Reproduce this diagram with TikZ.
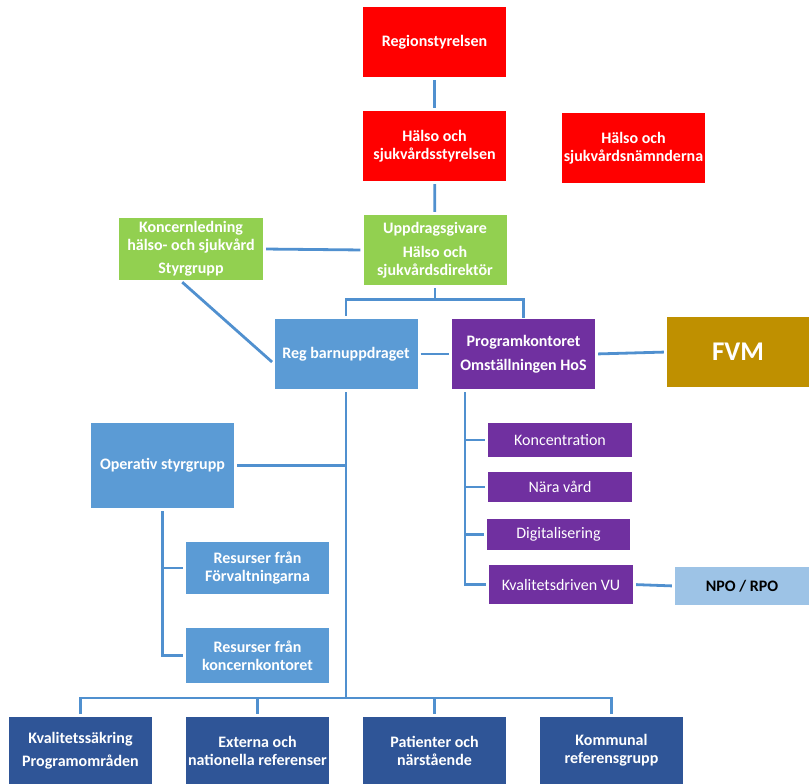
\documentclass[tikz,border=0pt]{standalone}
\usepackage{fontspec}
\setmainfont{Carlito}
\usetikzlibrary{calc}
\definecolor{cred}{HTML}{FF0000}
\definecolor{cgreen}{HTML}{92D050}
\definecolor{cblue}{HTML}{5B9BD5}
\definecolor{cpurple}{HTML}{7030A0}
\definecolor{cgold}{HTML}{BF9000}
\definecolor{clight}{HTML}{9DC3E6}
\definecolor{cdark}{HTML}{2F5597}
\definecolor{cline}{HTML}{5090CF}
\tikzset{
  box/.style={inner sep=0pt, minimum width=143pt, minimum height=70pt, text=white,
    font=\bfseries\fontsize{16}{18}\selectfont, align=center},
  redbox/.style={box, fill=cred},
  greenbox/.style={box, fill=cgreen},
  bluebox/.style={box, fill=cblue},
  purplebox/.style={box, fill=cpurple},
  subbox/.style={box, fill=cpurple, font=\fontsize{16}{18}\selectfont, minimum width=144pt},
  darkbox/.style={box, fill=cdark, minimum height=67pt},
  conn/.style={draw=cline, line width=2.8pt, shorten >=3pt, shorten <=3pt},
  plain/.style={draw=cline, line width=2.8pt}
}
\begin{document}
\begin{tikzpicture}[x=1pt,y=-1pt]
\useasboundingbox (0,0) rectangle (809,784);
% red
\node[redbox] (rs) at (434.5,42) {Regionstyrelsen};
\node[redbox] (hs) at (434.5,146) {Hälso och\\sjukvårdsstyrelsen};
\node[redbox] (hn) at (633.5,148) {Hälso och\\sjukvårdsnämnderna};
% green
\node[greenbox] (ug) at (435,250) {Uppdragsgivare\\[6pt]Hälso och\\sjukvårdsdirektör};
\node[greenbox, minimum width=144pt, minimum height=62pt] (kl) at (191,249) {Koncernledning\\hälso- och sjukvård\\[5pt]Styrgrupp};
% blue / purple
\node[bluebox] (rb) at (346,354) {Reg barnuppdraget};
\node[purplebox] (pk) at (523.5,354) {Programkontoret\\[6pt]Omställningen HoS};
\node[box, fill=cgold, minimum width=142pt, font=\bfseries\fontsize{27}{30}\selectfont] (fvm) at (738,352) {FVM};
% sub purple
\node[subbox, minimum height=34pt] (ko) at (560,440) {Koncentration};
\node[subbox, minimum height=30pt] (nv) at (560,487) {Nära vård};
\node[subbox, minimum width=143pt, minimum height=31pt] (dg) at (558.5,534.5) {Digitalisering};
\node[subbox, minimum height=39pt] (kv) at (561,584.5) {Kvalitetsdriven VU};
\node[box, fill=clight, text=black, minimum width=134pt, minimum height=38pt] (npo) at (742,586) {NPO / RPO};
% operativ
\node[bluebox, minimum height=85pt] (os) at (162.5,465.5) {Operativ styrgrupp};
\node[bluebox, minimum height=52pt] (rf) at (257.5,568) {Resurser från\\Förvaltningarna};
\node[bluebox, minimum height=55pt] (rk) at (257.5,655.5) {Resurser från\\koncernkontoret};
% bottom
\node[darkbox] (b1) at (80.5,750.5) {Kvalitetssäkring\\[5pt]Programområden};
\node[darkbox] (b2) at (257.5,750.5) {Externa och\\nationella referenser};
\node[darkbox] (b3) at (434.5,750.5) {Patienter och\\närstående};
\node[darkbox] (b4) at (611.5,750.5) {Kommunal\\referensgrupp};
% coordinates
\coordinate (bus) at (346,698);
\coordinate (pkb) at (465,392);
% connectors
\draw[conn] (rs) -- (hs);
\draw[conn] (hs) -- (ug);
\draw[conn] (kl.east) -- (ug.west);
\draw[conn] ($(kl.south)+(-11,0)$) -- ($(rb.west)+(0,10)$);
\draw[plain, shorten <=3pt] (ug.south) -- ++(0,14) -| ($(rb.north)+(0,-3)$);
\draw[plain, shorten <=3pt] (ug.south) -- ++(0,14) -| ($(pk.north)+(0,-1)$);
\draw[conn] (rb.east) -- (pk.west);
\draw[conn] (pk.east) -- (fvm.west);
\draw[plain, shorten >=3pt] (pkb) |- (ko.west);
\draw[plain, shorten >=3pt] (pkb) |- (nv.west);
\draw[plain, shorten >=3pt] (pkb) |- (dg.west);
\draw[plain, shorten >=3pt] (pkb) |- (kv.west);
\draw[conn] (kv.east) -- (npo.west);
\draw[plain, shorten <=3pt] (rb.south) -- (bus);
\draw[plain, shorten <=3pt] (os.east) -- (os.east -| rb.south);
\draw[plain, shorten <=3pt, shorten >=3pt] (os.south) |- (rf.west);
\draw[plain, shorten <=3pt, shorten >=3pt] (os.south) |- (rk.west);
\draw[plain, shorten >=3pt] (bus) -| (b1.north);
\draw[plain, shorten >=3pt] (bus) -| (b2.north);
\draw[plain, shorten >=3pt] (bus) -| (b3.north);
\draw[plain, shorten >=3pt] (bus) -| (b4.north);
\end{tikzpicture}
\end{document}
